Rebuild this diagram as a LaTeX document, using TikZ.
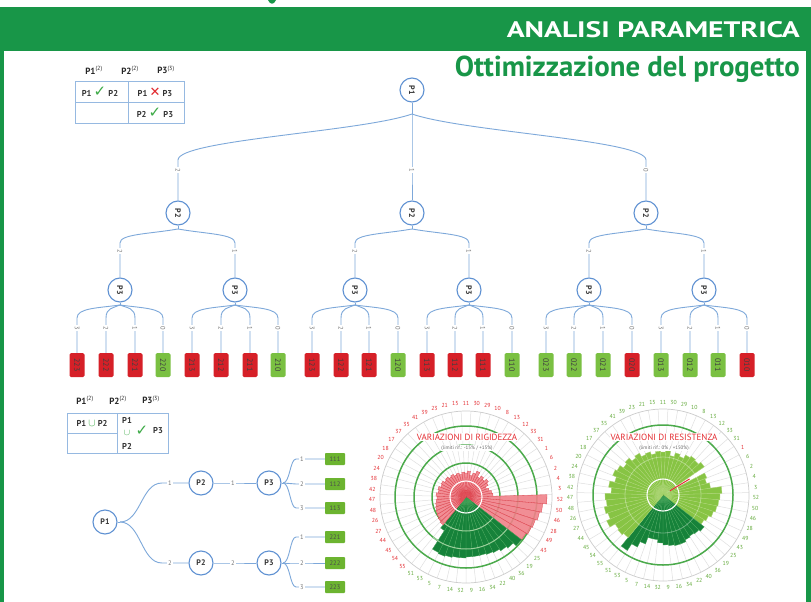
\documentclass[tikz,border=0pt]{standalone}
\usepackage{fontspec}
\usepackage{graphicx}
\setmainfont{PT Sans}
\newfontfamily\symfont{DejaVu Sans}
\usetikzlibrary{calc}

\definecolor{hdrgreen}{RGB}{24,150,72}
\definecolor{leafred}{RGB}{214,32,40}
\definecolor{leafgreen}{RGB}{122,192,66}
\definecolor{hboxgreen}{RGB}{108,180,48}
\definecolor{linkblue}{RGB}{125,168,218}
\definecolor{nodeblue}{RGB}{95,145,210}
\definecolor{tabblue}{RGB}{150,185,225}
\definecolor{chkgreen}{RGB}{60,170,70}
\definecolor{crossred}{RGB}{225,40,45}
\definecolor{barpink}{RGB}{240,130,138}
\definecolor{barpinkedge}{RGB}{222,70,80}
\definecolor{bardark}{RGB}{22,130,58}
\definecolor{bardarkedge}{RGB}{70,165,90}
\definecolor{barlight}{RGB}{135,196,68}
\definecolor{barlightedge}{RGB}{175,215,120}
\definecolor{ringgreen}{RGB}{75,170,75}
\definecolor{labred}{RGB}{228,45,50}
\definecolor{labgreen}{RGB}{100,170,60}

\newcommand\mycheck{{\symfont\color{chkgreen}\fontsize{15}{15}\selectfont ✓}}
\newcommand\mycross{{\symfont\color{crossred}\fontsize{13}{13}\selectfont ✕}}
\newcommand\myunion{{\color{chkgreen}\fontsize{11}{11}\selectfont$\cup$}}
\newcommand\smallunion{{\color{chkgreen}\fontsize{9.5}{9.5}\selectfont$\cup$}}

% category order around both radar charts (clockwise from the top)
\def\catlist{11,30,29,10,8,13,12,33,31,1,6,2,4,3,52,50,46,28,49,43,25,19,36,40,22,34,16,9,32,14,7,5,53,51,55,54,45,44,27,26,48,47,42,38,24,20,18,17,37,35,41,39,23,21,15}
\def\rigid{24,26,22,25,28,23,26,24,27,25,22,24,26,27,81,77,75,73,72,70,70,66,64,62,61,60,60,60,61,61,62,63,62,40,36,35,34,33,32,31,30,29,30,28,29,27,28,26,27,25,26,24,25,23,25}
\def\resist{43,45,40,44,42,46,48,47,50,0,47,45,48,59,57,56,55,53,50,48,52,50,49,50,52,52,51,50,48,45,45,52,58,66,55,57,56,62,58,60,57,58,52,55,50,54,52,48,50,46,48,44,45,42,44}

\tikzset{
  pcirc/.style={circle, draw=nodeblue, line width=1.1pt, fill=white, minimum size=24pt, inner sep=0pt, font=\fontsize{8}{9}\selectfont\bfseries, text=black!80},
  pcircv/.style={pcirc, rotate=-90},
  link/.style={draw=linkblue, line width=0.9pt},
  elab/.style={fill=white, inner sep=1.2pt, font=\fontsize{6.5}{7}\selectfont, text=black!55},
  elabv/.style={elab, rotate=-90},
  leafbox/.style={rotate=-90, rounded corners=1.5pt, minimum width=24pt, minimum height=15pt, inner sep=0pt, font=\fontsize{8}{8}\selectfont, text=black!75},
  hbox/.style={fill=hboxgreen, minimum width=20pt, minimum height=12pt, inner sep=0pt, rounded corners=0.8pt, font=\fontsize{6.5}{7}\selectfont, text=black!70},
  tabrule/.style={draw=tabblue, line width=0.8pt},
  hdr/.style={font=\fontsize{9}{10}\selectfont\bfseries, text=black!85, inner sep=0.5pt},
  cell/.style={font=\fontsize{8.5}{9}\selectfont\bfseries, text=black!80, inner sep=0.3pt},
  spoke/.style={draw=black!12, line width=0.5pt},
  gridc/.style={draw=black!20, line width=0.7pt},
  ring/.style={draw=ringgreen, line width=1.5pt},
  ringlight/.style={draw=white!45!ringgreen, line width=1pt},
  pinkbar/.style={fill=barpink, fill opacity=0.9, draw=barpinkedge, line width=0.3pt},
  darkbar/.style={fill=bardark, draw=bardarkedge, line width=0.3pt},
  lightbar/.style={fill=barlight, draw=barlightedge, line width=0.3pt},
  plab/.style={font=\fontsize{5.8}{6}\selectfont, inner sep=0pt},
  ctitle/.style={fill=white, inner sep=1pt, text=labred, font=\fontsize{9}{10}\selectfont},
  csub/.style={fill=white, inner sep=0.5pt, text=black!60, font=\fontsize{5}{6}\selectfont},
}

\begin{document}
\begin{tikzpicture}[x=1pt,y=-1pt]
\useasboundingbox (0,0) rectangle (811,602);

% ---- frame and headings
\fill[hdrgreen] (0,7) rectangle (811,602);
\fill[white] (4,51) rectangle (806,602);
\fill[hdrgreen] (268,0) .. controls (270,5) and (274,5) .. (276,0) -- cycle;
\node[anchor=east, inner sep=0pt, text=white] (head) at (800,30)
  {\resizebox{293pt}{16pt}{\bfseries ANALISI PARAMETRICA}};
\node[anchor=base east, inner sep=0pt, text=hdrgreen] (subhead) at (800,77)
  {\resizebox{345pt}{!}{\bfseries Ottimizzazione del progetto}};

% ---- compatibility table (top)
\node[hdr] (ta1) at (94,70) {P1\textsuperscript{\mdseries(2)}};
\node[hdr] (ta2) at (130,70) {P2\textsuperscript{\mdseries(2)}};
\node[hdr] (ta3) at (166,70) {P3\textsuperscript{\mdseries(3)}};
\draw[tabrule] (75,81) rectangle (184,123);
\draw[tabrule] (128,81) -- (128,123);
\draw[tabrule] (75,102) -- (184,102);
\node[cell] (tc1) at (100,92) {P1 \mycheck\ P2};
\node[cell] (tc2) at (155,92) {P1 \mycross\ P3};
\node[cell] (tc3) at (155,113) {P2 \mycheck\ P3};

% ---- full tree
\node[pcircv] (pr) at (412,90) {P1};
\coordinate (pr-j) at (412,114);
\draw[link] (pr) -- (pr-j);
\node[pcircv] (pa) at (178,213) {P2};
\node[pcircv] (pb) at (412,213) {P2};
\node[pcircv] (pc) at (646,213) {P2};
\draw[link] (pr-j) .. controls (360,132) and (178,140) .. (178,160) -- (178,170) node[elabv]{2} -- (pa);
\draw[link] (pr-j) -- (412,170) node[elabv]{1} -- (pb);
\draw[link] (pr-j) .. controls (464,132) and (646,140) .. (646,160) -- (646,170) node[elabv]{0} -- (pc);
\foreach \nm/\gx in {pa/178, pb/412, pc/646} {
  \coordinate (\nm-j) at (\gx,229);
  \draw[link] (\nm) -- (\nm-j);
}
\foreach \gx/\pn/\px/\elb/\nm in {120/pa/178/2/q1, 235/pa/178/1/q2, 355/pb/412/2/q3, 469/pb/412/1/q4, 589/pc/646/2/q5, 704/pc/646/1/q6} {
  \node[pcircv] (\nm) at (\gx,290) {P3};
  \coordinate (\nm-j) at (\gx,305);
  \draw[link] (\nm) -- (\nm-j);
  \draw[link] (\pn-j) .. controls ({(\px+\gx)/2},234) and (\gx,234) .. (\gx,243) -- (\gx,251) node[elabv]{\elb} -- (\nm);
}
\foreach \lx/\pn/\gx/\elb/\tx/\lcol in {
  77/q1/120/3/223/leafred, 106/q1/120/2/222/leafred, 135/q1/120/1/221/leafred, 163/q1/120/0/220/leafgreen,
  192/q2/235/3/213/leafred, 221/q2/235/2/212/leafred, 250/q2/235/1/211/leafred, 278/q2/235/0/210/leafgreen,
  312/q3/355/3/123/leafred, 341/q3/355/2/122/leafred, 369/q3/355/1/121/leafred, 398/q3/355/0/120/leafgreen,
  427/q4/469/3/113/leafred, 455/q4/469/2/112/leafred, 483/q4/469/1/111/leafred, 512/q4/469/0/110/leafgreen,
  546/q5/589/3/023/leafgreen, 574/q5/589/2/022/leafgreen, 603/q5/589/1/021/leafgreen, 632/q5/589/0/020/leafred,
  661/q6/704/3/013/leafgreen, 690/q6/704/2/012/leafgreen, 718/q6/704/1/011/leafgreen, 747/q6/704/0/010/leafred} {
  \node[leafbox, fill=\lcol] (L\tx) at (\lx,365) {\tx};
  \draw[link] (\pn-j) .. controls ({(\gx+\lx)/2},308) and (\lx,308) .. (\lx,318) -- (\lx,328) node[elabv]{\elb} -- (L\tx);
}

% ---- compatibility table (bottom)
\node[hdr] (tb1) at (85,400) {P1\textsuperscript{\mdseries(2)}};
\node[hdr] (tb2) at (118,400) {P2\textsuperscript{\mdseries(2)}};
\node[hdr] (tb3) at (151,400) {P3\textsuperscript{\mdseries(3)}};
\draw[tabrule] (67,413) rectangle (168,453);
\draw[tabrule] (117,413) -- (117,453);
\draw[tabrule] (67,433) -- (117,433);
\node[cell] (d11) at (92,423) {P1 \myunion\ P2};
\node[cell] (d12a) at (127,420) {P1};
\node[cell] (d12b) at (127,433) {\smallunion};
\node[cell] (d12c) at (142,431) {\mycheck};
\node[cell] (d12d) at (158,431) {P3};
\node[cell] (d12e) at (127,446) {P2};

% ---- reduced tree
\node[pcirc] (bp1) at (105,522) {P1};
\coordinate (bp1-j) at (120,522);
\draw[link] (bp1) -- (bp1-j);
\node[pcirc] (bp2a) at (201,483) {P2};
\node[pcirc] (bp3a) at (269,483) {P3};
\node[pcirc] (bp2b) at (201,563) {P2};
\node[pcirc] (bp3b) at (269,563) {P3};
\draw[link] (bp1-j) .. controls (141,522) and (141,483) .. (162,483) -- (170,483) node[elab]{1} -- (bp2a);
\draw[link] (bp1-j) .. controls (141,522) and (141,563) .. (162,563) -- (170,563) node[elab]{2} -- (bp2b);
\draw[link] (bp2a) -- (233,483) node[elab]{1} -- (bp3a);
\draw[link] (bp2b) -- (233,563) node[elab]{2} -- (bp3b);
\coordinate (bp3a-j) at (283,483);
\coordinate (bp3b-j) at (283,563);
\draw[link] (bp3a) -- (bp3a-j);
\draw[link] (bp3b) -- (bp3b-j);
\foreach \y/\elb/\tx/\pn/\py in {459/1/111/bp3a/483, 484/2/112/bp3a/483, 508/3/113/bp3a/483,
                                 537/1/221/bp3b/563, 563/2/222/bp3b/563, 587/3/223/bp3b/563} {
  \node[hbox] (H\tx) at (335,\y) {\tx};
  \draw[link] (\pn-j) .. controls (290,\py) and (290,\y) .. (296,\y) -- (302,\y) node[elab]{\elb} -- (H\tx);
}

% ---- radar chart: stiffness
\begin{scope}[shift={(466,497)}]
  \foreach \i in {0,...,54} \draw[spoke] (0,0) -- ({\i*6.5455-86.7273}:86);
  \draw[gridc] (0,0) circle[radius=86];
  \foreach \rr in {34,52,71} \draw[ring] (0,0) circle[radius=\rr];
  \foreach \rad [count=\i from 0] in \rigid {
    \ifnum\i<20 \def\sty{pinkbar}\else\ifnum\i<34 \def\sty{darkbar}\else\def\sty{pinkbar}\fi\fi
    \path[\sty] (0,0) -- ({\i*6.5455-93.2727}:\rad) -- ({\i*6.5455-86.7273}:\rad) -- cycle;
  }
  \begin{scope}
    \clip (0,0) -- (37.6:100) -- (60:100) -- (85:100) -- (110:100) -- (129.3:100) -- cycle;
    \foreach \rr in {34,52} \draw[ringlight] (0,0) circle[radius=\rr];
  \end{scope}
  \draw[white, line width=1.1pt] (0,0) circle[radius=16];
  \foreach \lab [count=\i from 0] in \catlist {
    \ifnum\i<20 \def\col{labred}\else\ifnum\i<34 \def\col{labgreen}\else\def\col{labred}\fi\fi
    \node[plab, text=\col] (ra\i) at ({\i*6.5455-90}:94) {\lab};
  }
  \node[ctitle] (rat) at (1,-60) {VARIAZIONI DI RIGIDEZZA};
  \node[csub] (ras) at (1,-49) {(limiti rif.: -15\% / +15\%)};
\end{scope}

% ---- radar chart: strength
\begin{scope}[shift={(663,495)}]
  \foreach \i in {0,...,54} \draw[spoke] (0,0) -- ({\i*6.5455-86.7273}:86);
  \draw[gridc] (0,0) circle[radius=86];
  \draw[ring] (0,0) circle[radius=70];
  \foreach \rad [count=\i from 0] in \resist {
    \ifnum\i<20 \def\sty{lightbar}\else\ifnum\i<34 \def\sty{darkbar}\else\def\sty{lightbar}\fi\fi
    \ifnum\rad>0 \path[\sty] (0,0) -- ({\i*6.5455-93.2727}:\rad) -- ({\i*6.5455-86.7273}:\rad) -- cycle;\fi
  }
  \draw[white, opacity=0.35, line width=0.8pt] (0,0) circle[radius=38];
  \draw[white, line width=1.1pt] (0,0) circle[radius=16];
  \draw[labred, line width=1pt] ({58.9-90}:8) -- ({58.9-90}:31);
  \foreach \lab [count=\i from 0] in \catlist {
    \ifnum\i=9 \def\col{labred}\else\def\col{labgreen}\fi
    \node[plab, text=\col] (rb\i) at ({\i*6.5455-90}:93) {\lab};
  }
  \node[ctitle] (rbt) at (1,-58) {VARIAZIONI DI RESISTENZA};
  \node[csub] (rbs) at (1,-47) {(limiti rif.: 0\% / +150\%)};
\end{scope}
\end{tikzpicture}
\end{document}
